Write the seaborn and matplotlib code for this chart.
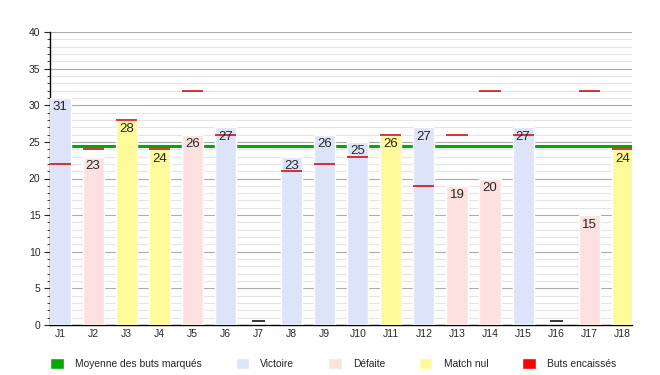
import numpy as np
import pandas as pd
import matplotlib
matplotlib.use("Agg")
import matplotlib.pyplot as plt
from matplotlib.patches import Patch
from matplotlib.ticker import MultipleLocator
import seaborn as sns

# Data
journees = [f"J{i}" for i in range(1, 19)]
buts_marques = [31, 23, 28, 24, 26, 27, 0, 23, 26, 25, 26, 27, 19, 20, 27, 0, 15, 24]
buts_encaisses = [22, 24, 28, 24, 32, 26, np.nan, 21, 22, 23, 26, 19, 26, 32, 26, np.nan, 32, 24]
resultats = ["Victoire", "Défaite", "Match nul", "Match nul", "Défaite", "Victoire", "Non joué",
             "Victoire", "Victoire", "Victoire", "Match nul", "Victoire", "Défaite", "Défaite",
             "Victoire", "Non joué", "Défaite", "Match nul"]

couleurs = {
    "Victoire": "#dde4fa",
    "Défaite": "#fde0e0",
    "Match nul": "#fffa99",
    "Non joué": "#ffffff",
}

df = pd.DataFrame({"journee": journees, "marques": buts_marques,
                   "encaisses": buts_encaisses, "resultat": resultats})
joues = df["resultat"] != "Non joué"
moyenne = df.loc[joues, "marques"].mean()

sns.set_style("white")
plt.rcParams["font.family"] = ["Liberation Sans", "DejaVu Sans"]

fig, ax = plt.subplots(figsize=(6.6, 3.75), dpi=100)
fig.subplots_adjust(left=0.076, right=0.958, top=0.915, bottom=0.133)

bar_w = 0.64
sns.barplot(data=df, x="journee", y="marques", hue="resultat", palette=couleurs,
            dodge=False, width=bar_w, legend=False, ax=ax, saturation=1)
for p in ax.patches:
    p.set_zorder(3)

xs = np.arange(len(df))

# average line, behind bars
ax.axhline(moyenne, color="#00aa00", lw=2.2, zorder=2)

# goals conceded markers
ax.hlines(df["encaisses"], xs - bar_w / 2, xs + bar_w / 2, color="#cc0000", lw=1.1, zorder=4)

# matches not played: small black mark
for x in xs[~joues.values]:
    ax.hlines(0.55, x - 0.2, x + 0.2, color="black", lw=1.1, zorder=4)

# value labels inside bars
for x, v in zip(xs[joues.values], df.loc[joues, "marques"]):
    ax.text(x, v - 1.3, f"{v}", ha="center", va="center", fontsize=9.5, zorder=5)

ax.set_ylim(0, 40)
ax.set_xlim(-0.3, len(df) - 0.7)
ax.yaxis.set_major_locator(MultipleLocator(5))
ax.yaxis.set_minor_locator(MultipleLocator(1))
ax.grid(which="major", axis="y", color="#aaaaaa", lw=0.8, zorder=0)
ax.grid(which="minor", axis="y", color="#e4e4e4", lw=0.8, zorder=0)
ax.set_axisbelow(True)

for s in ["top", "right"]:
    ax.spines[s].set_visible(False)
ax.spines["left"].set_color("black")
ax.spines["bottom"].set_color("black")
ax.spines["left"].set_linewidth(1)
ax.spines["bottom"].set_linewidth(1)

ax.tick_params(axis="y", which="major", direction="out", length=4, width=0.8,
               labelsize=7.5, left=True, pad=3)
ax.tick_params(axis="y", which="minor", direction="out", length=2, width=0.6, left=True)
ax.tick_params(axis="x", length=0, labelsize=7.5, pad=3)
ax.set_xlabel("")
ax.set_ylabel("")

handles = [
    Patch(facecolor="#00aa00", label="Moyenne des buts marqués"),
    Patch(facecolor=couleurs["Victoire"], label="Victoire"),
    Patch(facecolor=couleurs["Défaite"], label="Défaite"),
    Patch(facecolor=couleurs["Match nul"], label="Match nul"),
    Patch(facecolor="#ff0000", label="Buts encaissés"),
]
fig.legend(handles=handles, loc="lower left", bbox_to_anchor=(0.062, -0.008), ncol=5,
           frameon=False, fontsize=7.4, handlelength=1.3, handleheight=1.3,
           handletextpad=1.1, columnspacing=3.3)

fig.savefig("out.png", dpi=100)
